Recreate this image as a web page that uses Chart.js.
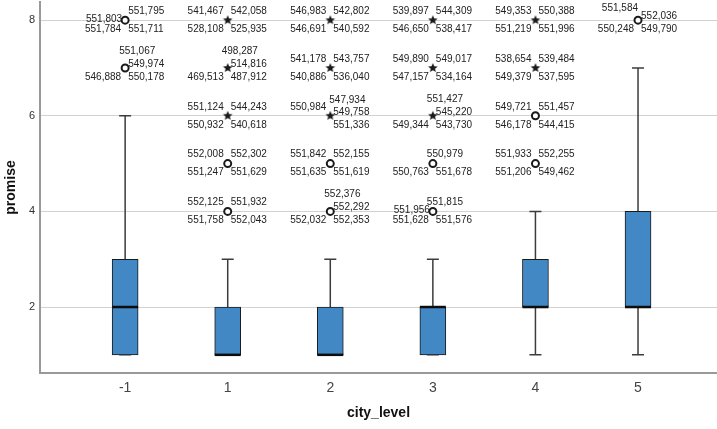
<!DOCTYPE html>
<html>
<head>
<meta charset="utf-8">
<script src="https://cdn.jsdelivr.net/npm/chart.js@4"></script>
<style>
  html, body { margin: 0; padding: 0; background: #fff; }
  #wrap { width: 717px; height: 429px; }
</style>
</head>
<body>
<div id="wrap"><canvas id="boxChart" width="717" height="429"></canvas></div>
<script>
/* SPSS-style boxplot: promise by city_level, with labelled outliers */

const categories = ["-1", "1", "2", "3", "4", "5"];
const whiskerLow = [1, 1, 1, 1, 1, 1];
const q1 = [1, 1, 1, 1, 2, 2];
const median = [2, 1, 1, 2, 2, 2];
const q3 = [3, 2, 2, 2, 3, 4];
const whiskerHigh = [6, 3, 3, 3, 4, 7];
const yTicks = [2, 4, 6, 8];

// outliers: category index, value, extreme (star) vs. mild (circle), case numbers
const outlierCat = [0, 0, 1, 1, 1, 1, 1, 2, 2, 2, 2, 2, 3, 3, 3, 3, 3, 4, 4, 4, 4, 5];
const outlierValue = [8, 7, 8, 7, 6, 5, 4, 8, 7, 6, 5, 4, 8, 7, 6, 5, 4, 8, 7, 6, 5, 8];
const outlierExtreme = [0, 0, 1, 1, 1, 0, 0, 1, 1, 1, 0, 0, 1, 1, 1, 0, 0, 1, 1, 0, 0, 0];
const outlierCases = [
  ["551,803", "551,795", "551,784", "551,711"],
  ["551,067", "549,974", "546,888", "550,178"],
  ["541,467", "542,058", "528,108", "525,935"],
  ["498,287", "514,816", "469,513", "487,912"],
  ["551,124", "544,243", "550,932", "540,618"],
  ["552,008", "552,302", "551,247", "551,629"],
  ["552,125", "551,932", "551,758", "552,043"],
  ["546,983", "542,802", "546,691", "540,592"],
  ["541,178", "543,757", "540,886", "536,040"],
  ["550,984", "547,934", "549,758", "551,336"],
  ["551,842", "552,155", "551,635", "551,619"],
  ["552,376", "552,292", "552,032", "552,353"],
  ["539,897", "544,309", "546,650", "538,417"],
  ["549,890", "549,017", "547,157", "534,164"],
  ["551,427", "545,220", "549,344", "543,730"],
  ["550,979", "550,763", "551,678"],
  ["551,815", "551,956", "551,628", "551,576"],
  ["549,353", "550,388", "551,219", "551,996"],
  ["538,654", "539,484", "549,379", "537,595"],
  ["549,721", "551,457", "546,178", "544,415"],
  ["551,933", "552,255", "551,206", "549,462"],
  ["551,584", "552,036", "550,248", "549,790"],
];

// where each case label sits around its marker (layout only)
const STD = ["tl", "tr", "bl", "br"];
const labelSlots = [
  ["l", "tr", "bl", "br"], ["t", "r", "bl", "br"],
  STD, ["t", "r", "bl", "br"], STD, STD, STD,
  STD, STD, ["tl", "t2", "r", "br"], STD, ["t", "r", "bl", "br"],
  STD, STD, ["t", "r", "bl", "br"], ["tc", "bl", "br"], ["tc", "l", "bl", "br"],
  STD, STD, STD, STD,
  ["tl2", "r", "bl", "br"],
];
const SLOT = {
  tl: { dx: -4, dy: -9, align: "right" },
  tr: { dx: 3, dy: -9, align: "left" },
  bl: { dx: -4, dy: 9, align: "right" },
  br: { dx: 3, dy: 9, align: "left" },
  l: { dx: -3, dy: -1, align: "right" },
  r: { dx: 3, dy: -4, align: "left" },
  t: { dx: -6, dy: -17, align: "left" },
  tc: { dx: -6, dy: -9, align: "left" },
  t2: { dx: -1, dy: -16, align: "left" },
  tl2: { dx: 0, dy: -12, align: "right" },
};

const BOX_W = 26;
const CAP_W = 12;
const INK = "#1a1a1a";

Chart.defaults.font.family = "Arial, 'Liberation Sans', sans-serif";
Chart.defaults.color = "#333";

function starImage(r) {
  const c = document.createElement("canvas");
  c.width = c.height = Math.ceil(r * 2 + 2);
  const g = c.getContext("2d");
  const cx = c.width / 2, cy = c.height / 2;
  g.beginPath();
  for (let k = 0; k < 10; k++) {
    const rad = k % 2 === 0 ? r : r * 0.45;
    const a = -Math.PI / 2 + (k * Math.PI) / 5;
    g.lineTo(cx + rad * Math.cos(a), cy + rad * Math.sin(a));
  }
  g.closePath();
  g.fillStyle = INK;
  g.fill();
  return c;
}

const pointsOf = (extreme) =>
  outlierValue
    .map((v, i) => ({ x: outlierCat[i], y: v, e: outlierExtreme[i] }))
    .filter((p) => p.e === extreme)
    .map(({ x, y }) => ({ x, y }));

const boxParts = {
  id: "boxParts",
  beforeDatasetsDraw(chart) {
    const { ctx, scales: { x, y } } = chart;
    ctx.save();
    ctx.strokeStyle = "#3c3c3c";
    ctx.lineWidth = 1.5;
    categories.forEach((_, i) => {
      const px = x.getPixelForValue(i);
      const hi = y.getPixelForValue(whiskerHigh[i]);
      const lo = y.getPixelForValue(whiskerLow[i]);
      ctx.beginPath();
      ctx.moveTo(px, y.getPixelForValue(q3[i]));
      ctx.lineTo(px, hi);
      ctx.moveTo(px, y.getPixelForValue(q1[i]));
      ctx.lineTo(px, lo);
      ctx.moveTo(px - CAP_W / 2, hi);
      ctx.lineTo(px + CAP_W / 2, hi);
      ctx.moveTo(px - CAP_W / 2, lo);
      ctx.lineTo(px + CAP_W / 2, lo);
      ctx.stroke();
    });
    ctx.restore();
  },
  afterDatasetsDraw(chart) {
    const { ctx, scales: { x, y } } = chart;
    ctx.save();
    ctx.strokeStyle = "#0d0d0d";
    ctx.lineWidth = 2.5;
    categories.forEach((_, i) => {
      const px = x.getPixelForValue(i);
      const py = y.getPixelForValue(median[i]);
      ctx.beginPath();
      ctx.moveTo(px - BOX_W / 2, py);
      ctx.lineTo(px + BOX_W / 2, py);
      ctx.stroke();
    });
    ctx.font = "10px Arial, 'Liberation Sans', sans-serif";
    ctx.fillStyle = "#222";
    ctx.textBaseline = "middle";
    outlierCases.forEach((cases, i) => {
      const px = x.getPixelForValue(outlierCat[i]);
      const py = y.getPixelForValue(outlierValue[i]);
      cases.forEach((txt, k) => {
        const s = SLOT[labelSlots[i][k]];
        ctx.textAlign = s.align;
        ctx.fillText(txt, px + s.dx, py + s.dy);
      });
    });
    ctx.restore();
  },
};

new Chart(document.getElementById("boxChart"), {
  type: "bar",
  data: {
    datasets: [
      {
        label: "promise",
        data: categories.map((_, i) => ({ x: i, y: [q1[i], q3[i]] })),
        backgroundColor: "#4288c5",
        borderColor: INK,
        borderWidth: 1,
        borderSkipped: false,
        barThickness: BOX_W,
      },
      {
        type: "scatter",
        label: "outliers",
        data: pointsOf(0),
        pointStyle: "circle",
        radius: 3.5,
        borderWidth: 2,
        borderColor: INK,
        backgroundColor: "#fff",
      },
      {
        type: "scatter",
        label: "extremes",
        data: pointsOf(1),
        pointStyle: starImage(5),
      },
    ],
  },
  options: {
    responsive: false,
    animation: false,
    events: [],
    layout: { autoPadding: false, padding: { top: 2, right: 0, left: 0, bottom: 0 } },
    plugins: { legend: { display: false }, tooltip: { enabled: false } },
    scales: {
      x: {
        type: "linear",
        offset: false,
        min: -0.83,
        max: 5.77,
        afterBuildTicks: (s) => { s.ticks = categories.map((_, i) => ({ value: i })); },
        afterFit: (s) => { s.height = 56; s.paddingLeft = 0; s.paddingRight = 0; },
        ticks: {
          callback: (v) => categories[v],
          font: { size: 14 },
          color: "#444",
          padding: 7,
        },
        grid: { display: false, drawTicks: false },
        border: { color: "#999", width: 2 },
        title: {
          display: true,
          text: "city_level",
          font: { size: 14, weight: "bold" },
          color: "#111",
          padding: { top: 0, bottom: 7 },
        },
      },
      y: {
        min: 0.62,
        max: 8.38,
        afterBuildTicks: (s) => { s.ticks = yTicks.map((v) => ({ value: v })); },
        afterFit: (s) => { s.width = 40; s.paddingTop = 0; s.paddingBottom = 0; },
        ticks: { font: { size: 11 }, color: "#333", padding: 5 },
        grid: { color: "#d2d2d2", lineWidth: 1, drawTicks: false },
        border: { color: "#999", width: 2 },
        title: {
          display: true,
          text: "promise",
          font: { size: 14, weight: "bold" },
          color: "#111",
          padding: { top: 3, bottom: 0 },
        },
      },
    },
  },
  plugins: [boxParts],
});
</script>
</body>
</html>
